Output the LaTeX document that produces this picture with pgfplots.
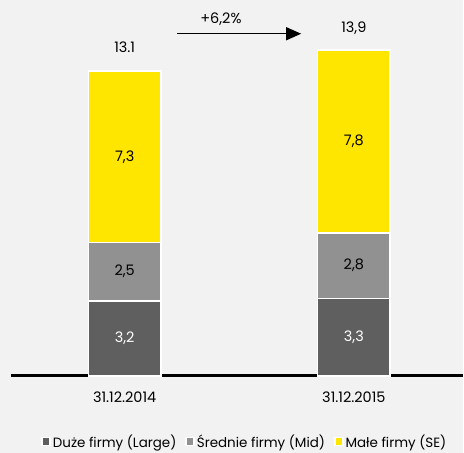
\documentclass[border=0pt]{standalone}
\usepackage{pgfplots}
\pgfplotsset{compat=1.18}
\usepackage{fontspec}
\setmainfont{Poppins}
\usetikzlibrary{arrows.meta}
\definecolor{bg}{HTML}{F2F2F2}
\definecolor{dk}{HTML}{5F5F5F}
\definecolor{md}{HTML}{919191}
\definecolor{ye}{HTML}{FFE600}
\begin{document}
\begin{tikzpicture}[x=1pt,y=1pt]
\fill[bg] (0,0) rectangle (464,454);
\pgfplotsset{base/.style={at={(11pt,77pt)}, anchor=south west, scale only axis,
  width=453pt, height=377pt, xmin=-0.496, xmax=1.474, ymin=0, ymax=16.04, clip=false}}
\begin{axis}[base, ybar stacked, bar width=73pt,
  axis x line*=bottom, axis y line=none,
  x axis line style={line width=3pt, -},
  xtick={0,1}, xticklabels={31.12.2014,31.12.2015},
  major tick length=0pt,
  xticklabel style={font=\fontsize{14.5}{16}\selectfont, yshift=-13pt},
  legend style={at={(0.518,-0.176)}, anchor=center, draw=none, fill=none,
    font=\fontsize{13.5}{15}\selectfont,
    /tikz/every even column/.append style={column sep=7pt}},
  legend columns=3,
  legend image code/.code={\fill[#1] (0pt,-3.5pt) rectangle (8pt,4.5pt);},
]
\addplot[fill=dk, draw=white, line width=1.5pt] coordinates {(0,3.2) (1,3.3)};
\addlegendentry{Duże firmy (Large)}
\addplot[fill=md, draw=white, line width=1.5pt] coordinates {(0,2.5) (1,2.8)};
\addlegendentry{Średnie firmy (Mid)}
\addplot[fill=ye, draw=white, line width=1.5pt] coordinates {(0,7.3) (1,7.8)};
\addlegendentry{Małe firmy (SE)}
\end{axis}
\begin{axis}[base, hide axis]
\addplot[draw=none, mark=none, nodes near coords, point meta=explicit symbolic,
  every node near coord/.style={anchor=center, text=white, font=\fontsize{14.5}{16}\selectfont}]
  table[meta=l] {x y l
0 1.6 3,2
1 1.65 3,3
};
\addplot[draw=none, mark=none, nodes near coords, point meta=explicit symbolic,
  every node near coord/.style={anchor=center, text=black, font=\fontsize{14.5}{16}\selectfont}]
  table[meta=l] {x y l
0 4.45 2,5
1 4.7 2,8
0 9.35 7,3
1 10.0 7,8
};
\addplot[draw=none, mark=none, nodes near coords, point meta=explicit symbolic,
  every node near coord/.style={anchor=center, text=black, yshift=22pt, font=\fontsize{14.5}{16}\selectfont}]
  table[meta=l] {x y l
0 13.1 13.1
1 13.9 13,9
};
\draw[line width=1.5pt, -{Triangle[length=15pt,width=13pt]}] (axis cs:0.23,14.6) -- (axis cs:0.77,14.6);
\node[font=\fontsize{14.5}{16}\selectfont] at (axis cs:0.42,15.22) {+6,2\%};
\end{axis}
\end{tikzpicture}
\end{document}
